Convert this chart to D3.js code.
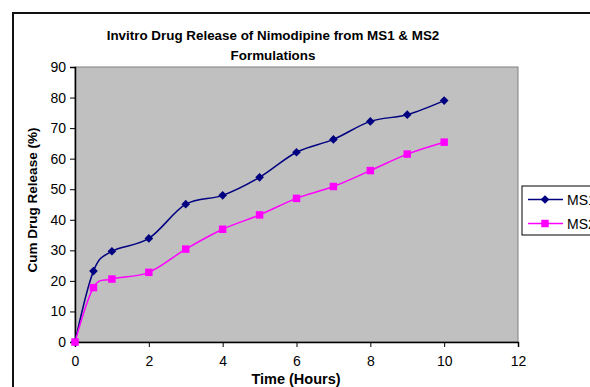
<!DOCTYPE html>
<html>
<head>
<meta charset="utf-8">
<script src="https://cdn.jsdelivr.net/npm/d3@7"></script>
<style>
  html, body { margin: 0; padding: 0; background: #fff; }
  svg { display: block; font-family: Arial, "Liberation Sans", sans-serif; }
</style>
</head>
<body>
<svg id="chart" width="590" height="387"></svg>
<script>
// Release time points (hours)
const hours = [0, 0.5, 1, 2, 3, 4, 5, 6, 7, 8, 9, 10];
// Cumulative drug release (%) for each formulation
const ms1 = [0, 23.2, 29.7, 33.9, 45.1, 48.0, 53.9, 62.1, 66.3, 72.2, 74.4, 79.0];
const ms2 = [0, 17.8, 20.6, 22.8, 30.4, 36.9, 41.6, 47.0, 50.9, 56.1, 61.5, 65.4];
const seriesNames = ["MS1", "MS2"];
const xTicks = [0, 2, 4, 6, 8, 10, 12];
const yTicks = [0, 10, 20, 30, 40, 50, 60, 70, 80, 90];

const svg = d3.select("#chart");

// outer chart frame (extends past the window on the right and bottom)
svg.append("rect")
  .attr("x", 13).attr("y", 13).attr("width", 640).attr("height", 420)
  .attr("fill", "none").attr("stroke", "#111").attr("stroke-width", 2);

const plot = { left: 75, top: 67, right: 518, bottom: 342 };

const x = d3.scaleLinear().domain([0, 12]).range([plot.left, plot.right]);
const y = d3.scaleLinear().domain([0, 90]).range([plot.bottom, plot.top]);

// plot area
svg.append("rect")
  .attr("x", plot.left).attr("y", plot.top)
  .attr("width", plot.right - plot.left).attr("height", plot.bottom - plot.top)
  .attr("fill", "#c0c0c0").attr("stroke", "#808080").attr("stroke-width", 1);

// axes
const xAxis = svg.append("g")
  .attr("transform", `translate(0,${plot.bottom})`)
  .call(d3.axisBottom(x).tickValues(xTicks).tickSize(5).tickPadding(9).tickFormat(d3.format("d")));
const yAxis = svg.append("g")
  .attr("transform", `translate(${plot.left},0)`)
  .call(d3.axisLeft(y).tickValues(yTicks).tickSize(5).tickPadding(4).tickFormat(d3.format("d")));

[xAxis, yAxis].forEach(g => {
  g.select(".domain").attr("stroke", "#000").attr("stroke-width", 1.5);
  g.selectAll(".tick line").attr("stroke", "#000");
  g.selectAll(".tick text").attr("fill", "#000").style("font-size", "14px")
    .style("font-family", "Arial, 'Liberation Sans', sans-serif");
});

// series lines and markers
const colors = ["#000080", "#ff00ff"];
const data = [ms1, ms2];
const line = d3.line()
  .x((d, i) => x(hours[i]))
  .y(d => y(d))
  .curve(d3.curveCatmullRom.alpha(0));

data.forEach((vals, s) => {
  svg.append("path")
    .datum(vals)
    .attr("d", line)
    .attr("fill", "none")
    .attr("stroke", colors[s])
    .attr("stroke-width", 1.5);
});

const diamond = d3.symbol().type(d3.symbolSquare).size(38);
const square = d3.symbol().type(d3.symbolSquare).size(56);
const marker = s => (s === 0 ? diamond : square);
const markerRotate = s => (s === 0 ? " rotate(45)" : "");

data.forEach((vals, s) => {
  svg.append("g").selectAll("path")
    .data(vals)
    .join("path")
    .attr("transform", (d, i) => `translate(${x(hours[i])},${y(d)})` + markerRotate(s))
    .attr("d", marker(s))
    .attr("fill", colors[s]);
});

// title
const title = svg.append("text")
  .attr("text-anchor", "middle")
  .style("font-size", "13.4px").style("font-weight", "bold").attr("fill", "#000");
title.append("tspan").attr("x", 273).attr("y", 40).text("Invitro Drug Release of Nimodipine from MS1 & MS2");
title.append("tspan").attr("x", 273).attr("y", 60).text("Formulations");

// axis titles
svg.append("text")
  .attr("x", 296).attr("y", 384).attr("text-anchor", "middle")
  .style("font-size", "14.5px").style("font-weight", "bold")
  .text("Time (Hours)");
svg.append("text")
  .attr("transform", "translate(37,200) rotate(-90)")
  .attr("text-anchor", "middle")
  .style("font-size", "13.5px").style("font-weight", "bold")
  .text("Cum Drug Release (%)");

// legend
const legend = svg.append("g");
legend.append("rect")
  .attr("x", 522).attr("y", 186).attr("width", 90).attr("height", 49)
  .attr("fill", "#fff").attr("stroke", "#000").attr("stroke-width", 1);
seriesNames.forEach((name, s) => {
  const ly = 199.5 + s * 24;
  legend.append("line")
    .attr("x1", 528).attr("x2", 563).attr("y1", ly).attr("y2", ly)
    .attr("stroke", colors[s]).attr("stroke-width", 1.5);
  legend.append("path")
    .attr("transform", `translate(545,${ly})` + markerRotate(s))
    .attr("d", marker(s))
    .attr("fill", colors[s]);
  legend.append("text")
    .attr("x", 567).attr("y", ly + 5)
    .style("font-size", "14px").attr("fill", "#000")
    .text(name);
});
</script>
</body>
</html>
